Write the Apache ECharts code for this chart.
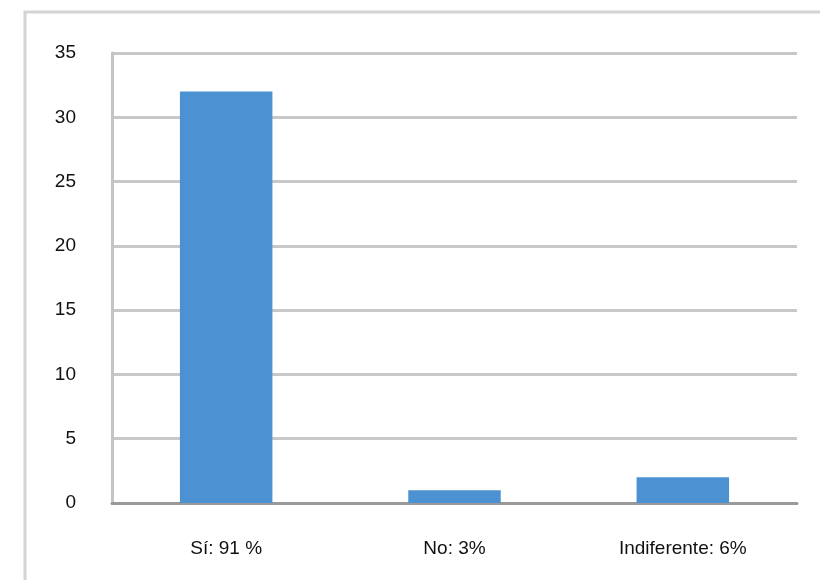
<!DOCTYPE html>
<html>
<head>
<meta charset="utf-8">
<script src="https://cdn.jsdelivr.net/npm/echarts@6/dist/echarts.min.js"></script>
<style>
html,body{margin:0;padding:0;background:#fff;}
#chart{width:820px;height:580px;}
</style>
</head>
<body>
<div id="chart"></div>
<script>
const categories = ["Sí: 91 %", "No: 3%", "Indiferente: 6%"];
const values = [32, 1, 2];
const yTicks = { min: 0, max: 35, interval: 5 };

const chart = echarts.init(document.getElementById('chart'));
chart.setOption({
  animation: false,
  backgroundColor: '#ffffff',
  graphic: [{
    type: 'rect',
    shape: { x: 25, y: 12, width: 820, height: 600 },
    style: { fill: 'none', stroke: '#d4d4d4', lineWidth: 3 },
    silent: true
  }],
  grid: { left: 112, right: 23, top: 53, bottom: 77 },
  xAxis: {
    type: 'category',
    data: categories,
    axisLine: { show: true, lineStyle: { color: '#9a9a9a', width: 3 } },
    axisTick: { show: false },
    axisLabel: { color: '#111', fontSize: 19, fontFamily: 'Liberation Sans, Arial, sans-serif', margin: 36 },
    splitLine: { show: false }
  },
  yAxis: {
    type: 'value',
    min: yTicks.min, max: yTicks.max, interval: yTicks.interval,
    axisLine: { show: true, lineStyle: { color: '#c4c4c4', width: 3 } },
    axisTick: { show: false },
    axisLabel: { color: '#111', fontSize: 19, fontFamily: 'Liberation Sans, Arial, sans-serif', margin: 36 },
    splitLine: { show: true, lineStyle: { color: '#c8c8c8', width: 3 } }
  },
  series: [{
    type: 'bar',
    data: values,
    barWidth: '40.5%',
    itemStyle: { color: '#4c91d1' }
  }]
});
</script>
</body>
</html>
